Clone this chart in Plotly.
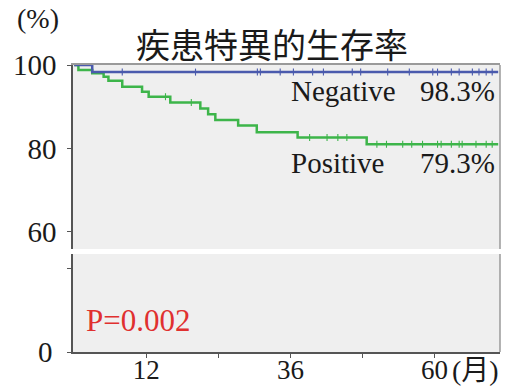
import plotly.graph_objects as go
from plotly.subplots import make_subplots

# ---- data ----
neg_time = [0, 3.0, 70.6]
neg_surv = [100, 98.3, 98.3]
neg_cens_time = [8.0, 20.2, 30.5, 31.0, 34.3, 36.5, 39.7, 41.5, 46.3, 47.7, 52.2,
                 55.8, 59.7, 60.5, 62.8, 64.1, 66.3, 67.4, 68.6, 69.6]

pos_time = [0, 0.7, 3.0, 4.9, 5.7, 8.0, 11.3, 12.4, 16.0, 21.0, 22.3, 23.5, 27.3,
            30.4, 37.2, 48.7, 70.6]
pos_surv = [100, 98.8, 98.0, 97.2, 96.2, 94.8, 93.6, 92.4, 91.0, 89.6, 88.2, 86.8,
            85.5, 83.9, 82.6, 81.0, 81.0]
pos_cens_time = [15.2, 19.5, 39.2, 42.1, 43.9, 45.4, 50.4, 52.0, 54.7, 56.2, 58.0,
                 60.5, 61.1, 62.8, 64.1, 64.6, 66.9, 68.6, 69.6]

x_tickvals = [12, 24, 36, 48, 60]
x_ticktext = ["12", "", "36", "", "60"]
y_upper_ticks = [60, 80, 100]
y_lower_ticks = [0, 20]
y_lower_text = ["0", ""]

title_text = "疾患特異的生存率"
neg_label, neg_pct = "Negative", "98.3%"
pos_label, pos_pct = "Positive", "79.3%"
p_text = "P=0.002"


def surv_at(times, survs, t):
    v = survs[0]
    for ti, si in zip(times, survs):
        if ti <= t:
            v = si
    return v


neg_cens_surv = [surv_at(neg_time, neg_surv, t) for t in neg_cens_time]
pos_cens_surv = [surv_at(pos_time, pos_surv, t) for t in pos_cens_time]

# ---- layout geometry ----
W, H = 528, 386
L, R, T, B = 73, 28, 65, 34
PW, PH = W - L - R, H - T - B


def px(x):
    return (x - L) / PW


def py(y):
    return (H - B - y) / PH


BLUE = "#4a5aad"
GREEN = "#3db54a"
SERIF = "Liberation Serif, Times New Roman, serif"
CJK = "Noto Sans CJK JP"

fig = make_subplots(rows=2, cols=1, shared_xaxes=True,
                    row_heights=[184, 98], vertical_spacing=5 / 287)

for row in (1, 2):
    fig.add_trace(go.Scatter(x=pos_time, y=pos_surv, mode="lines",
                             line=dict(color=GREEN, width=2.5, shape="hv"),
                             showlegend=False, hoverinfo="skip"), row=row, col=1)
    fig.add_trace(go.Scatter(x=pos_cens_time, y=pos_cens_surv, mode="markers",
                             marker=dict(symbol="line-ns", size=5,
                                         line=dict(color=GREEN, width=1.1)),
                             showlegend=False, hoverinfo="skip"), row=row, col=1)
    fig.add_trace(go.Scatter(x=neg_time, y=neg_surv, mode="lines",
                             line=dict(color=BLUE, width=2.5, shape="hv"),
                             showlegend=False, hoverinfo="skip"), row=row, col=1)
    fig.add_trace(go.Scatter(x=neg_cens_time, y=neg_cens_surv, mode="markers",
                             marker=dict(symbol="line-ns", size=5,
                                         line=dict(color=BLUE, width=1.1)),
                             showlegend=False, hoverinfo="skip"), row=row, col=1)

fig.update_xaxes(range=[-0.2, 70.9], showgrid=False, zeroline=False, automargin=False)
fig.update_xaxes(row=1, col=1, showline=True, side="top", linecolor="#9a9a9a",
                 linewidth=1.5, ticks="", showticklabels=False)
fig.update_xaxes(row=2, col=1, showline=True, linecolor="#555", linewidth=1.5,
                 ticks="outside", ticklen=4, tickcolor="#555", tickwidth=1,
                 tickvals=x_tickvals, ticktext=x_ticktext, ticklabelstandoff=-11,
                 tickfont=dict(family=SERIF, size=27, color="#1a1a1a"))

fig.update_yaxes(row=1, col=1, range=[55.9, 100], tickvals=y_upper_ticks,
                 showgrid=False, zeroline=False, showline=True, linecolor="#555",
                 linewidth=1.5, ticks="outside", ticklen=4, tickcolor="#555",
                 ticklabelstandoff=5, automargin=False,
                 tickfont=dict(family=SERIF, size=29, color="#1a1a1a"))
fig.update_yaxes(row=2, col=1, range=[0, 23.4], tickvals=y_lower_ticks,
                 ticktext=y_lower_text, automargin=False,
                 showgrid=False, zeroline=False, showline=True, linecolor="#555",
                 linewidth=1.5, ticks="outside", ticklen=4, tickcolor="#555",
                 ticklabelstandoff=9,
                 tickfont=dict(family=SERIF, size=29, color="#1a1a1a"))

shapes = [
    dict(type="line", xref="paper", x0=1, x1=1, yref="y domain", y0=0, y1=1,
         line=dict(color="#9a9a9a", width=1.5)),
    dict(type="line", xref="paper", x0=1, x1=1, yref="y2 domain", y0=0, y1=1,
         line=dict(color="#9a9a9a", width=1.5)),
]

annotations = [
    dict(text="(%)", xref="paper", yref="paper", x=px(38), y=py(19),
         xanchor="center", yanchor="middle", showarrow=False,
         font=dict(family=SERIF, size=28, color="#1a1a1a")),
    dict(text=title_text, xref="paper", yref="paper", x=px(272), y=py(44),
         xanchor="center", yanchor="middle", showarrow=False,
         font=dict(family=CJK, size=34, color="#1a1a1a")),
    dict(text=neg_label, xref="paper", yref="paper", x=px(289), y=py(91),
         xanchor="left", yanchor="middle", showarrow=False,
         font=dict(family=SERIF, size=29, color="#1a1a1a")),
    dict(text=neg_pct, xref="paper", yref="paper", x=px(497), y=py(91),
         xanchor="right", yanchor="middle", showarrow=False,
         font=dict(family=SERIF, size=29, color="#1a1a1a")),
    dict(text=pos_label, xref="paper", yref="paper", x=px(289), y=py(163),
         xanchor="left", yanchor="middle", showarrow=False,
         font=dict(family=SERIF, size=29, color="#1a1a1a")),
    dict(text=pos_pct, xref="paper", yref="paper", x=px(497), y=py(163),
         xanchor="right", yanchor="middle", showarrow=False,
         font=dict(family=SERIF, size=29, color="#1a1a1a")),
    dict(text=p_text, xref="paper", yref="paper", x=px(84), y=py(320),
         xanchor="left", yanchor="middle", showarrow=False,
         font=dict(family=SERIF, size=31, color="#e0302f")),
    dict(text="(月)", xref="paper", yref="paper", x=px(450), y=py(370),
         xanchor="left", yanchor="middle", showarrow=False,
         font=dict(family=SERIF + ", " + CJK, size=28, color="#1a1a1a")),
]

fig.update_layout(width=W, height=H, margin=dict(l=L, r=R, t=T, b=B, autoexpand=False),
                  paper_bgcolor="white", plot_bgcolor="#efefef",
                  shapes=shapes, annotations=annotations, showlegend=False)

fig.write_html("out.html", config={"displayModeBar": False},
               post_script="document.body.style.margin='0';document.body.style.overflow='hidden';")
